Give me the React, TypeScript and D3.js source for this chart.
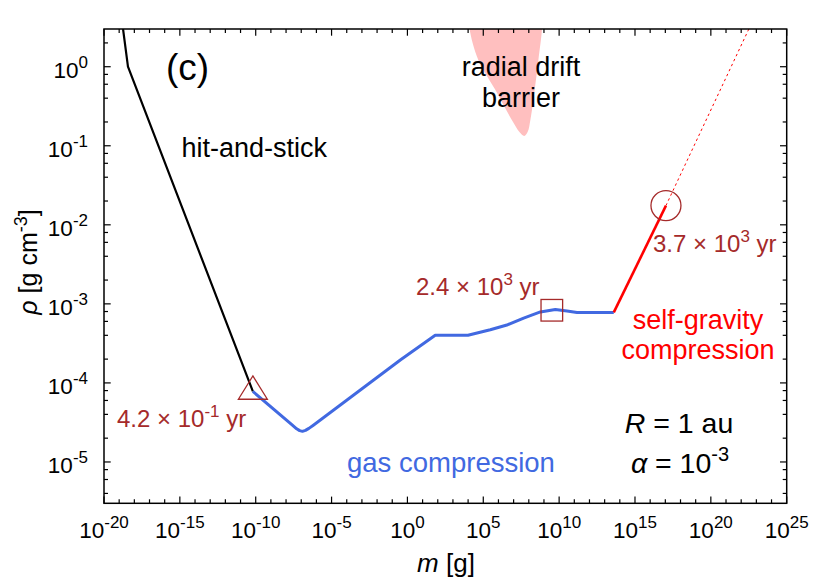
import React from 'react';
import * as d3 from 'd3';

const W = 830;
const H = 581;
const PL = 104, PR = 786.7, PT = 29, PB = 503.3;
const FONT = "'Liberation Sans', Arial, Helvetica, sans-serif";

// axis ticks (exponents)
const xTickExps = [-20, -15, -10, -5, 0, 5, 10, 15, 20, 25];
const yTickExps = [0, -1, -2, -3, -4, -5];
const yMinorMult = [2, 4, 6, 8];

// hit-and-stick stage (black)
const hitMass = [1.8e-19, 3.8e-19, 6.5e-11];
const hitRho = [3.0, 1.0, 7.8e-5];

// gas compression stage (blue)
const gasMass = [6.5e-11, 2.5e-8, 5.0e-8, 7.9e-8, 1.2e-7, 1.9e-7, 3.2e-7, 6.3e-7, 0.34, 68, 9.8e3, 2.9e5, 3.6e6, 4.6e7, 5.8e8, 5.6e9, 3.3e10, 1.5e11, 4.0e13];
const gasRho = [7.8e-5, 2.95e-5, 2.63e-5, 2.49e-5, 2.44e-5, 2.51e-5, 2.66e-5, 2.92e-5, 1.95e-4, 4.0e-4, 4.0e-4, 4.7e-4, 5.4e-4, 6.6e-4, 7.9e-4, 8.5e-4, 8.1e-4, 7.8e-4, 7.8e-4];

// self-gravity compression stage (red)
const sgMass = [4.0e13, 1.1e17];
const sgRho = [7.8e-4, 1.75e-2];

// extrapolation (dotted red)
const extMass = [1.1e17, 3.2e22];
const extRho = [1.75e-2, 3.0];

// radial drift barrier region (pink)
const driftMass = [1.26e4, 1.26e4, 4.7e4, 6.2e5, 7.8e6, 2.5e7, 5.0e7, 8.5e7, 1.26e8, 2.0e8, 4.3e8, 7.4e8, 7.4e8];
const driftRho = [4.0, 3.0, 1.22, 0.51, 0.21, 0.148, 0.133, 0.15, 0.21, 0.38, 1.22, 3.0, 4.0];

// markers: [mass, rho]
const triangleMark = [6.5e-11, 7.8e-5];
const squareMark = [3.3e9, 8.3e-4];
const circleMark = [1.1e17, 1.75e-2];

export default function App() {
  const x = d3.scaleLog().domain([1e-20, 1e25]).range([PL, PR]);
  const y = d3.scaleLog().domain([3e-6, 3]).range([PB, PT]);

  const line = d3.line<[number, number]>().x(d => x(d[0])).y(d => y(d[1]));
  const zip = (a: number[], b: number[]) => a.map((v, i) => [v, b[i]] as [number, number]);

  const hitPath = line(zip(hitMass, hitRho)) || '';
  const gasPath = line(zip(gasMass, gasRho)) || '';
  const sgPath = line(zip(sgMass, sgRho)) || '';
  const extPath = line(zip(extMass, extRho)) || '';
  const driftPath = (d3.line<[number, number]>().x(d => x(d[0])).y(d => y(d[1])).curve(d3.curveCatmullRom)(zip(driftMass, driftRho)) || '') + 'Z';

  const xMinor: number[] = [];
  for (let e = -20; e <= 25; e++) if (e % 5 !== 0) xMinor.push(Math.pow(10, e));
  const yMinor: number[] = [];
  for (let e = -6; e <= 0; e++) yMinorMult.forEach(k => {
    const v = k * Math.pow(10, e);
    if (v > 3e-6 && v < 3) yMinor.push(v);
  });

  const brown = '#a52a2a';
  const tx = triangleMark, sq = squareMark, ci = circleMark;
  const tcx = x(tx[0]), tcy = y(tx[1]);

  return (
    <svg width={W} height={H} style={{ position: 'absolute', left: 0, top: 0, background: '#fff' }} fontFamily={FONT}>
      <defs>
        <clipPath id="plotclip">
          <rect x={PL} y={PT} width={PR - PL} height={PB - PT} />
        </clipPath>
      </defs>
      <rect x={0} y={0} width={W} height={H} fill="#fff" />
      <g clipPath="url(#plotclip)">
        <path d={driftPath} fill="#ffbfbf" stroke="none" />
        <path d={extPath} fill="none" stroke="#ff0000" strokeWidth={1} strokeDasharray="2.5,3" />
        <path d={hitPath} fill="none" stroke="#000" strokeWidth={2.2} strokeLinejoin="round" />
        <path d={gasPath} fill="none" stroke="#4169e1" strokeWidth={3} strokeLinejoin="round" />
        <path d={sgPath} fill="none" stroke="#ff0000" strokeWidth={2.6} />
      </g>

      {/* markers */}
      <path d={`M${tcx},${tcy - 15.5} L${tcx + 14.5},${tcy + 7.8} L${tcx - 14.5},${tcy + 7.8} Z`} fill="none" stroke={brown} strokeWidth={1.3} />
      <rect x={x(sq[0]) - 10.8} y={y(sq[1]) - 10.8} width={21.6} height={21.6} fill="none" stroke={brown} strokeWidth={1.3} />
      <circle cx={x(ci[0])} cy={y(ci[1])} r={15} fill="none" stroke={brown} strokeWidth={1.3} />

      {/* frame */}
      <rect x={PL} y={PT} width={PR - PL} height={PB - PT} fill="none" stroke="#000" strokeWidth={1.5} />

      {/* x ticks */}
      {xTickExps.map(e => {
        const xx = x(Math.pow(10, e));
        return (
          <g key={'xt' + e}>
            <line x1={xx} x2={xx} y1={PB} y2={PB - 6.7} stroke="#000" strokeWidth={1.2} />
            <line x1={xx} x2={xx} y1={PT} y2={PT + 6.7} stroke="#000" strokeWidth={1.2} />
            <text x={xx} y={538} textAnchor="middle" fontSize={22.5} fill="#000">
              10<tspan dy={-10.5} fontSize={17}>{String(e)}</tspan>
            </text>
          </g>
        );
      })}
      {xMinor.map((v, i) => {
        const xx = x(v);
        return (
          <g key={'xm' + i}>
            <line x1={xx} x2={xx} y1={PB} y2={PB - 4} stroke="#000" strokeWidth={1.2} />
            <line x1={xx} x2={xx} y1={PT} y2={PT + 4} stroke="#000" strokeWidth={1.2} />
          </g>
        );
      })}

      {/* y ticks */}
      {yTickExps.map(e => {
        const yy = y(Math.pow(10, e));
        return (
          <g key={'yt' + e}>
            <line x1={PL} x2={PL + 6.7} y1={yy} y2={yy} stroke="#000" strokeWidth={1.2} />
            <line x1={PR} x2={PR - 6.7} y1={yy} y2={yy} stroke="#000" strokeWidth={1.2} />
            <text x={88} y={yy + 10.8} textAnchor="end" fontSize={22.5} fill="#000">
              10<tspan dy={-9.5} fontSize={17}>{String(e)}</tspan>
            </text>
          </g>
        );
      })}
      {yMinor.map((v, i) => {
        const yy = y(v);
        return (
          <g key={'ym' + i}>
            <line x1={PL} x2={PL + 4} y1={yy} y2={yy} stroke="#000" strokeWidth={1.2} />
            <line x1={PR} x2={PR - 4} y1={yy} y2={yy} stroke="#000" strokeWidth={1.2} />
          </g>
        );
      })}

      {/* axis titles */}
      <text x={446} y={572} textAnchor="middle" fontSize={26} fill="#000">
        <tspan fontStyle="italic">m</tspan> [g]
      </text>
      <text transform="translate(37,262) rotate(-90)" textAnchor="middle" fontSize={25} fill="#000">
        <tspan fontStyle="italic">ρ</tspan> [g cm<tspan dy={-10} fontSize={18}>-3</tspan><tspan dy={10}>]</tspan>
      </text>

      {/* annotations */}
      <text x={166} y={80} fontSize={37} fill="#000">(c)</text>
      <text x={181.5} y={156.5} fontSize={27} fill="#000">hit-and-stick</text>
      <text x={521} y={76} textAnchor="middle" fontSize={27} fill="#000">radial drift</text>
      <text x={521} y={106.5} textAnchor="middle" fontSize={27} fill="#000">barrier</text>
      <text x={347} y={471.5} fontSize={27.5} fill="#4169e1">gas compression</text>
      <text x={698} y={328.5} textAnchor="middle" fontSize={27} fill="#ff0000">self-gravity</text>
      <text x={698} y={358.5} textAnchor="middle" fontSize={27} fill="#ff0000">compression</text>

      <text x={117} y={426.5} fontSize={24} fill={brown}>
        4.2 × 10<tspan dy={-10} fontSize={17}>-1</tspan><tspan dy={10}> yr</tspan>
      </text>
      <text x={416} y={295} fontSize={24} fill={brown}>
        2.4 × 10<tspan dy={-10} fontSize={17}>3</tspan><tspan dy={10}> yr</tspan>
      </text>
      <text x={653} y={251.5} fontSize={24} fill={brown}>
        3.7 × 10<tspan dy={-10} fontSize={17}>3</tspan><tspan dy={10}> yr</tspan>
      </text>

      <text x={679} y={433} textAnchor="middle" fontSize={28.5} fill="#000">
        <tspan fontStyle="italic">R</tspan> = 1 au
      </text>
      <text x={680} y={473.3} textAnchor="middle" fontSize={28.5} fill="#000">
        <tspan fontStyle="italic">α</tspan> = 10<tspan dy={-12} fontSize={20}>-3</tspan>
      </text>
    </svg>
  );
}
